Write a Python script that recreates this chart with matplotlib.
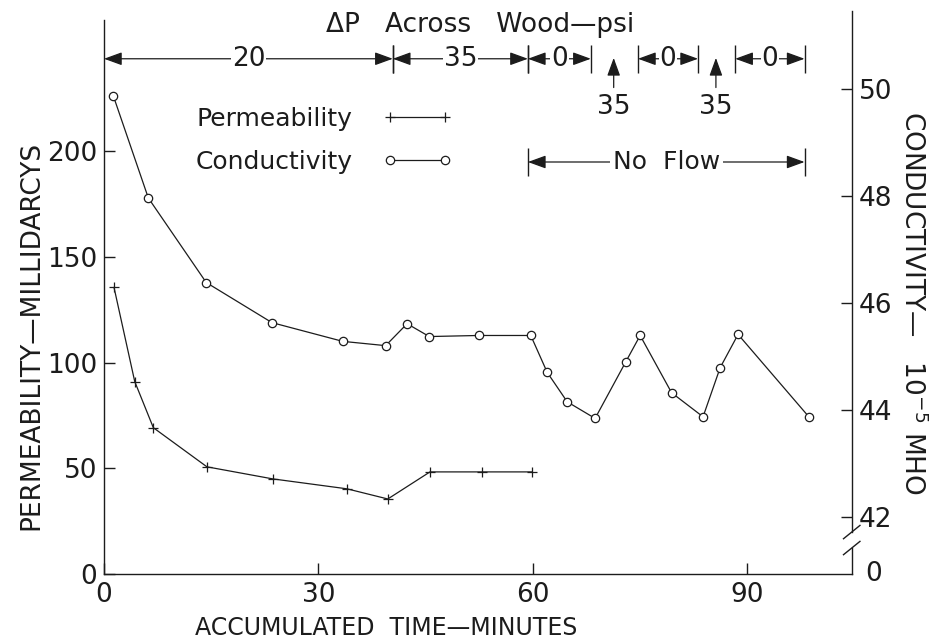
import matplotlib.pyplot as plt
from matplotlib.lines import Line2D

plt.rcParams['font.family'] = ['DejaVu Sans']
plt.rcParams['mathtext.default'] = 'regular'

# values
perm_time = [1.4, 4.3, 6.9, 14.4, 23.6, 34.0, 39.7, 45.6, 52.9, 59.9]
perm = [135.5, 91.0, 69.2, 50.7, 45.0, 40.3, 35.5, 48.3, 48.3, 48.3]

cond_time = [1.3, 6.2, 14.3, 23.5, 33.4, 39.4, 42.4, 45.5, 52.4, 59.7,
             62.0, 64.8, 68.7, 73.0, 75.0, 79.4, 83.8, 86.2, 88.7, 98.6]
cond = [49.87, 47.96, 46.38, 45.63, 45.28, 45.20, 45.61, 45.37, 45.39, 45.39,
        44.70, 44.15, 43.84, 44.90, 45.39, 44.32, 43.87, 44.79, 45.41, 43.87]

# pressure drop periods (start, end, psi) and short 35 psi pulses
dp_periods = [(0, 40.4, '20'), (40.4, 59.3, '35'), (59.3, 68.1, '0'),
              (74.7, 83.1, '0'), (88.3, 98.0, '0')]
dp_pulses = [71.3, 85.6]
no_flow = (59.3, 98.0)

ink = '#1c1c1c'
tfs = 19

fig = plt.figure(figsize=(9.37, 6.4), dpi=100)
ax = fig.add_axes([0.111, 0.103, 0.798, 0.866])
ax2 = ax.twinx()

ax.set_xlim(0, 104.6)
ax.set_ylim(0, 262)
ax2.set_ylim(40.93, 51.29)

# permeability
ax.plot(perm_time, perm, color=ink, lw=0.9, marker='+', ms=7, mew=0.9)
# conductivity
ax2.plot(cond_time, cond, color=ink, lw=0.9, marker='o', ms=6, mew=0.9,
         mfc='white')

# spines / ticks
for a in (ax, ax2):
    a.spines['top'].set_visible(False)
    for s in a.spines.values():
        s.set_color(ink)
        s.set_linewidth(1.0)
ax.spines['right'].set_visible(False)
ax2.spines['left'].set_visible(False)
ax2.spines['bottom'].set_visible(False)
ax2.spines['right'].set_bounds(41.72, 51.45)

ax.set_xticks([0, 30, 60, 90])
ax.set_yticks([0, 50, 100, 150, 200])
ax2.set_yticks([42, 44, 46, 48, 50])
ax.tick_params(direction='in', length=8, width=1, colors=ink, labelsize=tfs, pad=5)
ax.tick_params(axis='x', pad=6)
ax2.tick_params(direction='in', length=8, width=1, colors=ink, labelsize=tfs, pad=5)

# broken right axis
ax2.plot([1.0, 1.0], [0.0, 0.047], transform=ax2.transAxes, color=ink,
         lw=1.0, clip_on=False)
for yb in (0.0758, 0.047):
    ax2.plot([0.989, 1.011], [yb - 0.012, yb + 0.012], transform=ax2.transAxes,
             color=ink, lw=1.0, clip_on=False)
ax2.text(1.018, 0.0, '0', transform=ax2.transAxes, fontsize=tfs, color=ink,
         va='center', ha='left')

ax.set_xlabel('ACCUMULATED  TIME—MINUTES', fontsize=17, color=ink)
ax.xaxis.set_label_coords(0.378, -0.076)
ax.set_ylabel('PERMEABILITY—MILLIDARCYS', fontsize=19, color=ink)
ax.yaxis.set_label_coords(-0.08, 0.43)
ax2.set_ylabel('CONDUCTIVITY—   10$^{-5}$ MHO', fontsize=19, color=ink,
               rotation=270)
ax2.yaxis.set_label_coords(1.1, 0.49)

# pressure drop annotation
ax.text(52.6, 259.5, 'ΔP   Across   Wood—psi', fontsize=19, color=ink,
        ha='center', va='center')
head = '<|-|>,head_length=0.55,head_width=0.2'
y_dp = 243.6
for s, e, lab in dp_periods:
    ax.annotate('', xy=(s, y_dp), xytext=(e, y_dp), annotation_clip=False,
                arrowprops=dict(arrowstyle=head, color=ink, lw=0.9,
                                mutation_scale=20, shrinkA=0, shrinkB=0))
    ax.text((s + e) / 2, y_dp, lab, fontsize=tfs, color=ink, ha='center',
            va='center', bbox=dict(fc='white', ec='none', pad=0.5))
    for xb in (s, e):
        if xb > 0:
            ax.vlines(xb, y_dp - 6.5, y_dp + 6.5, color=ink, lw=1.0)
for xp in dp_pulses:
    ax.annotate('', xy=(xp, 244), xytext=(xp, 230),
                arrowprops=dict(arrowstyle='-|>,head_length=0.55,head_width=0.2',
                                color=ink, lw=0.9, mutation_scale=20,
                                shrinkA=0, shrinkB=0))
    ax.text(xp, 221, '35', fontsize=tfs, color=ink, ha='center', va='center')

y_nf = 194.8
ax.annotate('', xy=(no_flow[0], y_nf), xytext=(no_flow[1], y_nf),
            arrowprops=dict(arrowstyle=head, color=ink, lw=0.9,
                            mutation_scale=20, shrinkA=0, shrinkB=0))
ax.text(sum(no_flow) / 2, y_nf, 'No  Flow', fontsize=18, color=ink,
        ha='center', va='center', bbox=dict(fc='white', ec='none', pad=2))
for xb in no_flow:
    ax.vlines(xb, y_nf - 6.5, y_nf + 6.5, color=ink, lw=1.0)

# legend (marker after label)
handles = [Line2D([], [], color=ink, lw=0.9, marker='+', ms=7, mew=0.9),
           Line2D([], [], color=ink, lw=0.9, marker='o', ms=6, mew=0.9,
                  mfc='white')]
ax.legend(handles, ['Permeability', 'Conductivity'], markerfirst=False,
          frameon=False, numpoints=2, fontsize=18, handlelength=2.8,
          handletextpad=1.2, labelspacing=0.75, loc='upper left',
          bbox_to_anchor=(0.122, 0.843), borderpad=0, borderaxespad=0,
          labelcolor=ink)

plt.savefig('out.png', dpi=100)
